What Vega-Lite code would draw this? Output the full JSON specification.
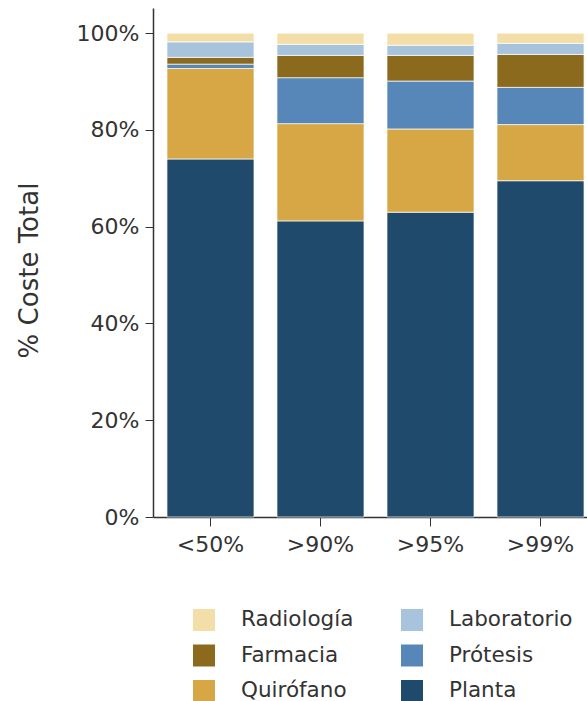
{
  "$schema": "https://vega.github.io/schema/vega-lite/v6.json",
  "width": 445,
  "height": 509,
  "autosize": "none",
  "padding": {"left": 153, "top": 8, "right": 0, "bottom": 184},
  "background": "white",
  "config": {"font": "DejaVu Sans", "view": {"stroke": null}},
  "data": {"values": [
    {"grupo": "<50%", "categoria": "Planta", "orden": 1, "valor": 74.0},
    {"grupo": "<50%", "categoria": "Quirófano", "orden": 2, "valor": 18.7},
    {"grupo": "<50%", "categoria": "Prótesis", "orden": 3, "valor": 0.9},
    {"grupo": "<50%", "categoria": "Farmacia", "orden": 4, "valor": 1.4},
    {"grupo": "<50%", "categoria": "Laboratorio", "orden": 5, "valor": 3.2},
    {"grupo": "<50%", "categoria": "Radiología", "orden": 6, "valor": 1.8},
    {"grupo": ">90%", "categoria": "Planta", "orden": 1, "valor": 61.2},
    {"grupo": ">90%", "categoria": "Quirófano", "orden": 2, "valor": 20.1},
    {"grupo": ">90%", "categoria": "Prótesis", "orden": 3, "valor": 9.5},
    {"grupo": ">90%", "categoria": "Farmacia", "orden": 4, "valor": 4.6},
    {"grupo": ">90%", "categoria": "Laboratorio", "orden": 5, "valor": 2.3},
    {"grupo": ">90%", "categoria": "Radiología", "orden": 6, "valor": 2.3},
    {"grupo": ">95%", "categoria": "Planta", "orden": 1, "valor": 63.0},
    {"grupo": ">95%", "categoria": "Quirófano", "orden": 2, "valor": 17.2},
    {"grupo": ">95%", "categoria": "Prótesis", "orden": 3, "valor": 9.9},
    {"grupo": ">95%", "categoria": "Farmacia", "orden": 4, "valor": 5.3},
    {"grupo": ">95%", "categoria": "Laboratorio", "orden": 5, "valor": 2.1},
    {"grupo": ">95%", "categoria": "Radiología", "orden": 6, "valor": 2.5},
    {"grupo": ">99%", "categoria": "Planta", "orden": 1, "valor": 69.5},
    {"grupo": ">99%", "categoria": "Quirófano", "orden": 2, "valor": 11.6},
    {"grupo": ">99%", "categoria": "Prótesis", "orden": 3, "valor": 7.7},
    {"grupo": ">99%", "categoria": "Farmacia", "orden": 4, "valor": 6.8},
    {"grupo": ">99%", "categoria": "Laboratorio", "orden": 5, "valor": 2.3},
    {"grupo": ">99%", "categoria": "Radiología", "orden": 6, "valor": 2.1}
  ]},
  "mark": {"type": "bar", "stroke": "white", "strokeWidth": 0.7},
  "encoding": {
    "x": {
      "field": "grupo", "type": "nominal",
      "sort": ["<50%", ">90%", ">95%", ">99%"],
      "scale": {"paddingInner": 0.209, "paddingOuter": 0.127},
      "axis": {"title": null, "labelAngle": 0, "labelFontSize": 22, "labelColor": "#333333",
               "domainColor": "#333333", "domainWidth": 1.5, "tickColor": "#333333", "tickSize": 9, "labelPadding": 8, "labelBaseline": "top"}
    },
    "y": {
      "field": "valor", "type": "quantitative", "stack": "zero",
      "scale": {"domain": [0, 105.2], "nice": false},
      "axis": {"values": [0, 20, 40, 60, 80, 100], "labelExpr": "datum.value + '%'",
               "title": "% Coste Total", "titleFontSize": 26, "titleFontWeight": "normal", "titleColor": "#333333",
               "titlePadding": 34, "titleY": 262, "labelFontSize": 22, "labelColor": "#333333", "labelPadding": 6,
               "grid": false, "domainColor": "#333333", "domainWidth": 1.5, "tickColor": "#333333", "tickSize": 8}
    },
    "order": {"field": "orden", "type": "quantitative", "sort": "ascending"},
    "color": {
      "field": "categoria", "type": "nominal",
      "scale": {
        "domain": ["Radiología", "Laboratorio", "Farmacia", "Prótesis", "Quirófano", "Planta"],
        "range": ["#F2DEA6", "#A8C4DD", "#8B6A1E", "#5787B8", "#D6A744", "#1F4A6B"]
      },
      "legend": {
        "title": null, "orient": "none", "legendX": 40, "legendY": 601,
        "direction": "horizontal", "columns": 2,
        "symbolType": "square", "symbolSize": 484, "symbolStrokeWidth": 0,
        "labelFontSize": 21.5, "labelColor": "#333333", "labelOffset": 26,
        "rowPadding": 13.5, "columnPadding": 47, "labelLimit": 300
      }
    }
  }
}
